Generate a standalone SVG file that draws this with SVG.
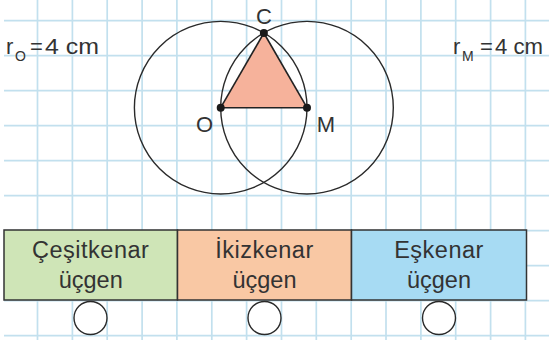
<svg xmlns="http://www.w3.org/2000/svg" width="549" height="340" viewBox="0 0 549 340">
<style>
.grid{stroke:#c2e0ee;stroke-width:1.7}
.t{font-family:"Liberation Sans",Arial,sans-serif;fill:#333}
.big{font-size:23.5px}
.lab{font-size:22px}
.sub{font-size:14px}
.circ{fill:none;stroke:#2a2a2a;stroke-width:1.4}
.box{stroke:#333;stroke-width:1.5}
.dot{fill:#1a1a1a}
.chk{fill:#fff;stroke:#2a2a2a;stroke-width:1.4}
.edge{stroke:#222;stroke-width:1.6}
</style>
<rect width="549" height="340" fill="#fff"/>
<g id="grid" class="grid">
<line x1="37.5" y1="0" x2="37.5" y2="340"/>
<line x1="72.4" y1="0" x2="72.4" y2="340"/>
<line x1="107.2" y1="0" x2="107.2" y2="340"/>
<line x1="142.1" y1="0" x2="142.1" y2="340"/>
<line x1="176.9" y1="0" x2="176.9" y2="340"/>
<line x1="211.8" y1="0" x2="211.8" y2="340"/>
<line x1="246.6" y1="0" x2="246.6" y2="340"/>
<line x1="281.5" y1="0" x2="281.5" y2="340"/>
<line x1="316.3" y1="0" x2="316.3" y2="340"/>
<line x1="351.2" y1="0" x2="351.2" y2="340"/>
<line x1="386" y1="0" x2="386" y2="340"/>
<line x1="420.9" y1="0" x2="420.9" y2="340"/>
<line x1="455.7" y1="0" x2="455.7" y2="340"/>
<line x1="490.6" y1="0" x2="490.6" y2="340"/>
<line x1="525.4" y1="0" x2="525.4" y2="340"/>
<line x1="4" y1="20.7" x2="549" y2="20.7"/>
<line x1="4" y1="55.7" x2="549" y2="55.7"/>
<line x1="4" y1="90.7" x2="549" y2="90.7"/>
<line x1="4" y1="125.7" x2="549" y2="125.7"/>
<line x1="4" y1="160.7" x2="549" y2="160.7"/>
<line x1="4" y1="195.7" x2="549" y2="195.7"/>
<line x1="4" y1="230.7" x2="549" y2="230.7"/>
<line x1="4" y1="265.7" x2="549" y2="265.7"/>
<line x1="4" y1="300.7" x2="549" y2="300.7"/>
<line x1="4" y1="335.7" x2="549" y2="335.7"/>
</g>
<g id="circle-O"><circle class="circ" cx="220.7" cy="107.7" r="86.3"/></g>
<g id="circle-M"><circle class="circ" cx="307" cy="107.7" r="86.3"/></g>
<g id="triangle"><polygon points="220.7,107.7 307,107.7 263.85,33" fill="#f6b29b"/></g>
<g id="connectors">
<line class="edge" x1="220.7" y1="107.7" x2="307" y2="107.7"/>
<line class="edge" x1="220.7" y1="107.7" x2="263.85" y2="33"/>
<line class="edge" x1="307" y1="107.7" x2="263.85" y2="33"/>
</g>
<g id="point-O"><circle class="dot" cx="220.7" cy="107.7" r="4"/><text class="t lab" x="204.5" y="131.5" text-anchor="middle">O</text></g>
<g id="point-M"><circle class="dot" cx="307" cy="107.7" r="4"/><text class="t lab" x="326" y="131.5" text-anchor="middle">M</text></g>
<g id="point-C"><circle class="dot" cx="263.85" cy="33" r="4"/><text class="t lab" x="264" y="23.5" text-anchor="middle">C</text></g>
<g id="label-rO"><text class="t lab" x="6" y="54">r<tspan class="sub" x="15" dy="7">O</tspan><tspan x="30" dy="-7">=</tspan><tspan x="45" textLength="54" lengthAdjust="spacingAndGlyphs">4 cm</tspan></text></g>
<g id="label-rM"><text class="t lab" x="453" y="54">r<tspan class="sub" x="462" dy="7">M</tspan><tspan x="480" dy="-7">=</tspan><tspan x="495" textLength="48" lengthAdjust="spacingAndGlyphs">4 cm</tspan></text></g>
<g id="box-cesitkenar">
<rect class="box" x="4" y="230" width="173.5" height="70" fill="#cfe5b7"/>
<text class="t big" x="90.7" y="258" text-anchor="middle" letter-spacing="0.5">Çeşitkenar</text>
<text class="t big" x="90.7" y="288" text-anchor="middle">üçgen</text>
<circle class="chk" cx="90.5" cy="318" r="16.5"/>
</g>
<g id="box-ikizkenar">
<rect class="box" x="177.5" y="230" width="174" height="70" fill="#f9c8a4"/>
<text class="t big" x="264.5" y="258" text-anchor="middle" letter-spacing="0.5">İkizkenar</text>
<text class="t big" x="264.5" y="288" text-anchor="middle">üçgen</text>
<circle class="chk" cx="264.5" cy="318" r="16.5"/>
</g>
<g id="box-eskenar">
<rect class="box" x="351.5" y="230" width="175" height="70" fill="#a7dbf3"/>
<text class="t big" x="439" y="258" text-anchor="middle" letter-spacing="0.5">Eşkenar</text>
<text class="t big" x="439" y="288" text-anchor="middle">üçgen</text>
<circle class="chk" cx="439" cy="318" r="16.5"/>
</g>
</svg>
